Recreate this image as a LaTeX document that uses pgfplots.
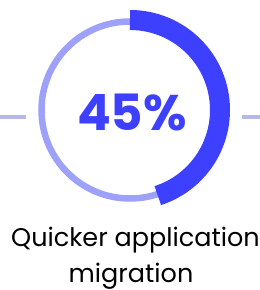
\documentclass[border=0pt]{standalone}
\usepackage{pgfplots}
\pgfplotsset{compat=1.18}
\usepackage{fontspec}
\setmainfont{Poppins}
\definecolor{arcblue}{HTML}{3D41FF}
\definecolor{ringlav}{HTML}{9DA1FA}
\definecolor{sidelav}{HTML}{B8B8E8}
\def\pct{45}
\begin{document}
\begin{tikzpicture}
\begin{axis}[hide axis, scale only axis, width=260pt, height=290pt,
  xmin=0, xmax=260, ymin=0, ymax=290, clip=false]
  % side lines
  \addplot[sidelav, line width=4pt, no marks] coordinates {(0,173) (26,173)};
  \addplot[sidelav, line width=4pt, no marks] coordinates {(242,173) (260,173)};
  % background ring
  \draw[ringlav, line width=6.5pt] (axis cs:130,180) circle[radius=88.5pt];
  % value arc
  \pgfmathsetmacro{\endang}{90-3.6*\pct}
  \draw[arcblue, line width=20pt] (axis cs:130,270) arc[start angle=90, end angle=\endang, radius=90pt];
  \node[text=arcblue, font=\fontsize{50}{60}\selectfont\bfseries, anchor=center] at (axis cs:132,178) {\pct\%};
  \node[text=black, font=\fontsize{25.5}{32}\selectfont, anchor=base] at (axis cs:135.5,43) {Quicker application};
  \node[text=black, font=\fontsize{25.5}{32}\selectfont, anchor=base] at (axis cs:131,8) {migration};
\end{axis}
\pgfresetboundingbox
\path (0,0) rectangle (260pt,290pt);
\end{tikzpicture}
\end{document}
